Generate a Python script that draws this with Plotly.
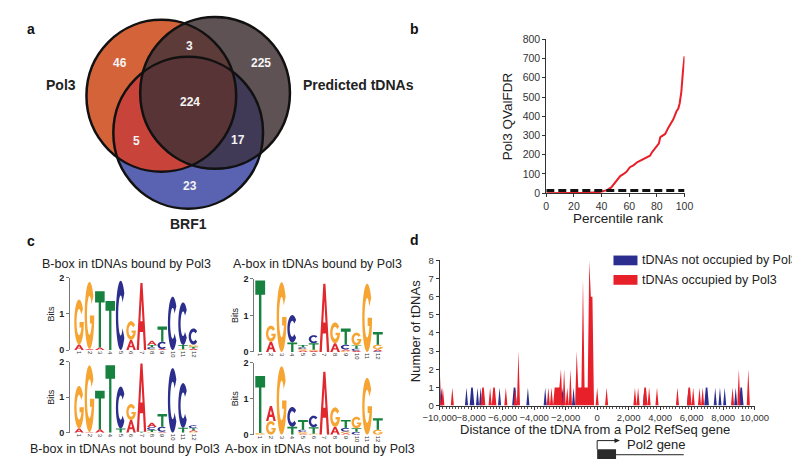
import numpy as np
import plotly.graph_objects as go

W, H = 800, 461
FONT = "Liberation Sans, Arial, Helvetica, sans-serif"
TXT = "#222222"

# ---------------- data: panel a (Venn) ----------------
venn_set_names = ["Pol3", "Predicted tDNAs", "BRF1"]
venn_region_names = ["Pol3 only", "Pol3 & Predicted", "Predicted only", "All three",
                     "Pol3 & BRF1", "Predicted & BRF1", "BRF1 only"]
venn_region_counts = [46, 3, 225, 224, 5, 17, 23]

# ---------------- data: panel b ----------------
percentile_rank = [0, 10, 20, 30, 38, 41, 44, 47, 50, 53.5, 56, 58, 60.5, 63, 66, 69, 72, 75,
                   76.7, 79, 81.4, 82.5, 84, 86, 88.4, 90, 91.9, 94.2, 95.5, 96.5, 97.7, 98.8, 100]
pol3_qval_fdr = [0, 0, 1, 2, 5, 9, 16, 30, 55, 89, 100, 111, 135, 145, 162, 172, 182, 195,
                 215, 235, 258, 292, 300, 308, 342, 360, 384, 426, 440, 468, 527, 628, 712]
qval_threshold = 14

# ---------------- data: panel c (sequence logos, bits) ----------------
logo_positions = list(range(1, 13))
bbox_bound = {
    "A": [0.15, 0.03, 0.07, 0.00, 0.00, 0.28, 1.86, 0.12, 0.03, 0.00, 0.00, 0.04],
    "C": [0.00, 0.00, 0.00, 0.00, 1.92, 0.00, 0.00, 0.06, 0.20, 1.48, 1.18, 0.45],
    "G": [1.25, 1.86, 0.00, 0.00, 0.00, 0.52, 0.00, 0.02, 0.00, 0.00, 0.02, 0.06],
    "T": [0.00, 0.00, 1.56, 1.36, 0.00, 0.00, 0.00, 0.06, 0.42, 0.00, 0.12, 0.05],
}
bbox_unbound = {
    "A": [0.12, 0.02, 0.10, 0.00, 0.00, 0.36, 1.92, 0.12, 0.03, 0.00, 0.00, 0.04],
    "C": [0.00, 0.00, 0.00, 0.00, 1.18, 0.00, 0.00, 0.08, 0.14, 1.82, 1.26, 0.08],
    "G": [1.20, 1.88, 0.00, 0.00, 0.00, 0.45, 0.00, 0.02, 0.00, 0.00, 0.00, 0.03],
    "T": [0.00, 0.00, 1.08, 1.90, 0.12, 0.00, 0.03, 0.06, 0.36, 0.00, 0.14, 0.06],
}
abox_bound = {
    "A": [0.00, 0.28, 0.00, 0.00, 0.04, 0.03, 1.87, 0.24, 0.04, 0.03, 0.00, 0.05],
    "C": [0.00, 0.00, 0.00, 0.75, 0.05, 0.22, 0.00, 0.00, 0.13, 0.06, 0.00, 0.02],
    "G": [0.00, 0.44, 1.91, 0.00, 0.04, 0.03, 0.00, 0.57, 0.03, 0.35, 1.87, 0.13],
    "T": [1.96, 0.00, 0.00, 0.26, 0.06, 0.18, 0.00, 0.00, 0.44, 0.09, 0.00, 0.35],
}
abox_unbound = {
    "A": [0.00, 0.42, 0.00, 0.00, 0.03, 0.00, 1.75, 0.22, 0.04, 0.00, 0.00, 0.00],
    "C": [0.00, 0.00, 0.00, 0.55, 0.06, 0.32, 0.00, 0.00, 0.10, 0.08, 0.00, 0.00],
    "G": [0.05, 0.38, 1.90, 0.00, 0.05, 0.03, 0.00, 0.54, 0.05, 0.32, 1.58, 0.14],
    "T": [1.58, 0.00, 0.00, 0.22, 0.27, 0.18, 0.00, 0.00, 0.22, 0.10, 0.00, 0.32],
}
logo_titles = ["B-box in tDNAs bound by Pol3", "B-box in tDNAs not bound by Pol3",
               "A-box in tDNAs bound by Pol3", "A-box in tDNAs not bound by Pol3"]

# ---------------- data: panel d ----------------
dist_bins = list(range(-10000, 10001, 100))
not_occupied_pos = [-9900, -8300, -8000, -7900, -7600, -7400, -6200, -5300, -5200, -4400,
                    -3300, -2200, -1500, 3000, 5800, 6900, 7000, 7500, 7800, 8100, 8800,
                    9100, 9200]
not_occupied_n = [1] * len(not_occupied_pos)
occupied_pos = [-10000, -9800, -9200, -7300, -7200, -6800, -6600, -6500, -5800, -5200, -5000,
                -3100, -2900, -2700, -2600, -2500, -2400, -2300, -2100, -1900, -1700, -1300,
                -1200, -1100, -1000, -900, -800, -700, -600, -500, -400, -300, 0, 600, 2400,
                2600, 3000, 3100, 3300, 3800, 5100, 5800, 5900, 6100, 6500, 6700, 8600, 9000,
                9600]
occupied_n = [2, 1, 1, 1, 1, 1, 1, 1, 1, 1, 3,
              1, 1, 1, 1, 1, 1, 2, 2, 1, 2, 3,
              1, 1, 1, 7, 1, 1, 1, 8, 6, 6, 1, 1, 1,
              1, 1, 1, 1, 1, 1, 1, 1, 1, 1, 1, 1, 2,
              2]
gene_box = [0, 1200]
gene_line_end = 5500


# ---------------- helpers ----------------
def px(x):
    return x / W


def py(y):
    return 1 - y / H


def ann(text, x, y, size, bold=False, color=TXT, xanchor="center", yanchor="middle", angle=0):
    return dict(x=px(x), y=py(y), xref="paper", yref="paper", showarrow=False,
                text=f"<b>{text}</b>" if bold else text, textangle=angle,
                xanchor=xanchor, yanchor=yanchor,
                font=dict(family=FONT, size=size, color=color))


fig = go.Figure()
shapes = []
annotations = []

# ================= panel a: Venn =================
venn_circles = [((142, 84), 78), ((198, 81), 78), ((170, 122), 78)]
venn_base_colors = ["#D5633A", "#5E5255", "#5A63B2"]
venn_pair_colors = {(0, 1): "#5D3B38", (0, 2): "#C8443B", (1, 2): "#403A57"}
venn_triple_color = "#583436"


def circ_pts(c, r, n=900):
    t = np.linspace(0, 2 * np.pi, n, endpoint=False)
    return np.c_[c[0] + r * np.cos(t), c[1] + r * np.sin(t)]


def inter_poly(idx):
    pts = []
    for i in idx:
        p = circ_pts(*venn_circles[i])
        m = np.ones(len(p), bool)
        for j in idx:
            if j != i:
                c, r = venn_circles[j]
                m &= (p[:, 0] - c[0]) ** 2 + (p[:, 1] - c[1]) ** 2 <= r * r
        pts.append(p[m])
    pts = np.vstack(pts)
    cen = pts.mean(0)
    ang = np.arctan2(pts[:, 1] - cen[1], pts[:, 0] - cen[0])
    pts = pts[np.argsort(ang)]
    return "M " + " L ".join(f"{px(a):.5f},{py(b):.5f}" for a, b in pts) + " Z"


for (c, r), col in zip(venn_circles, venn_base_colors):
    shapes.append(dict(type="circle", xref="paper", yref="paper",
                       x0=px(c[0] - r), x1=px(c[0] + r), y0=py(c[1] + r), y1=py(c[1] - r),
                       fillcolor=col, line=dict(width=0), layer="above"))
for pair, col in venn_pair_colors.items():
    shapes.append(dict(type="path", xref="paper", yref="paper", path=inter_poly(pair),
                       fillcolor=col, line=dict(width=0), layer="above"))
shapes.append(dict(type="path", xref="paper", yref="paper", path=inter_poly((0, 1, 2)),
                   fillcolor=venn_triple_color, line=dict(width=0), layer="above"))
for c, r in venn_circles:
    shapes.append(dict(type="circle", xref="paper", yref="paper",
                       x0=px(c[0] - r), x1=px(c[0] + r), y0=py(c[1] + r), y1=py(c[1] - r),
                       fillcolor="rgba(0,0,0,0)", line=dict(width=2.5, color="#111111"),
                       layer="above"))

venn_label_xy = [(99, 50), (171, 33), (246, 50), (172, 90), (116, 130), (222, 129), (172, 177)]
for n, (x, y) in zip(venn_region_counts, venn_label_xy):
    annotations.append(ann(str(n), x, y, 12, bold=True, color="#F4F4F4"))
annotations.append(ann(venn_set_names[0], 37, 73, 14, bold=True))
annotations.append(ann(venn_set_names[1], 288, 73, 14, bold=True, xanchor="left"))
annotations.append(ann(venn_set_names[2], 170, 216, 14, bold=True))

# panel letters
for letter, (x, y) in zip("abcd", [(6, 15), (406, 15), (6, 233), (406, 232)]):
    annotations.append(ann(letter, x, y, 14, bold=True, color="#111111"))

# ================= panel b =================
fig.add_trace(go.Scatter(x=percentile_rank, y=pol3_qval_fdr, mode="lines",
                         line=dict(color="#E8202A", width=2), xaxis="x", yaxis="y",
                         hoverinfo="skip", showlegend=False))
fig.add_trace(go.Scatter(x=[percentile_rank[0], percentile_rank[-1]],
                         y=[qval_threshold, qval_threshold], mode="lines",
                         line=dict(color="#111111", width=3, dash="8px,4px"),
                         xaxis="x", yaxis="y", hoverinfo="skip", showlegend=False))
ax_common = dict(showgrid=False, zeroline=False, showline=True, linecolor="#333333",
                 linewidth=1, ticks="outside", ticklen=3, tickcolor="#333333",
                 tickfont=dict(family=FONT, size=10.5, color="#333333"), fixedrange=True,
                 tickangle=0)
fig.update_layout(
    xaxis=dict(domain=[px(543), px(687)], range=[0, 100], tickvals=list(range(0, 101, 20)),
               anchor="y", **ax_common),
    yaxis=dict(domain=[py(184), py(26)], range=[0, 800], tickvals=list(range(0, 801, 100)),
               anchor="x", **ax_common),
)
annotations.append(ann("Percentile rank", 618, 210, 13.5))
annotations.append(ann("Pol3 QValFDR", 502, 105, 13.5, angle=-90))

# ================= panel d =================
occ_map = dict(zip(occupied_pos, occupied_n))
not_map = dict(zip(not_occupied_pos, not_occupied_n))
occ_y = [occ_map.get(b, 0) for b in dist_bins]
not_y = [not_map.get(b, 0) for b in dist_bins]
fig.add_trace(go.Scatter(x=dist_bins, y=not_y, mode="lines", fill="tozeroy",
                         line=dict(width=0, color="#2B2E8E"), fillcolor="#2B2E8E",
                         xaxis="x2", yaxis="y2", hoverinfo="skip", showlegend=False))
fig.add_trace(go.Scatter(x=dist_bins, y=occ_y, mode="lines", fill="tozeroy",
                         line=dict(width=0, color="#E8202A"), fillcolor="#E8202A",
                         xaxis="x2", yaxis="y2", hoverinfo="skip", showlegend=False))
axd = dict(ax_common)
axd["tickfont"] = dict(family=FONT, size=9.5, color="#333333")
fig.update_layout(
    xaxis2=dict(domain=[px(432), px(760)], range=[-10000, 10000],
                tickvals=list(range(-10000, 10001, 2000)), tickformat=",d", anchor="y2",
                minor=dict(dtick=200, ticks="outside", ticklen=2, tickcolor="#555555"),
                **axd),
    yaxis2=dict(domain=[py(402), py(253)], range=[0, 8], tickvals=list(range(0, 9)),
                anchor="x2", **axd),
)
annotations.append(ann("Distance of the tDNA from a Pol2 RefSeq gene", 594, 427, 13))
annotations.append(ann("Number of tDNAs", 407, 326, 13, angle=-90))
# legend
for (label, col), yy in zip([("tDNAs not occupied by Pol3", "#2B2E8E"),
                             ("tDNAs occupied by Pol3", "#E8202A")], [253, 273]):
    shapes.append(dict(type="rect", xref="paper", yref="paper", x0=px(613), x1=px(638),
                       y0=py(yy + 5), y1=py(yy - 5), fillcolor=col, line=dict(width=0)))
    annotations.append(ann(label, 641, yy, 12.5, xanchor="left"))
# gene diagram (aligned to the distance axis)
shapes.append(dict(type="rect", xref="x2", yref="paper", x0=gene_box[0], x1=gene_box[1],
                   y0=py(457), y1=py(447), fillcolor="#2A2A2A", line=dict(width=0)))
shapes.append(dict(type="line", xref="x2", yref="paper", x0=gene_box[1], x1=gene_line_end,
                   y0=py(452.5), y1=py(452.5), line=dict(color="#222222", width=1)))
shapes.append(dict(type="path", xref="x2", yref="paper",
                   path=f"M {gene_box[0]},{py(447)} L {gene_box[0]},{py(438)} L 1150,{py(438)}",
                   line=dict(color="#222222", width=1)))
shapes.append(dict(type="path", xref="x2", yref="paper",
                   path=f"M 1100,{py(435.5)} L 1450,{py(438)} L 1100,{py(440.5)} Z",
                   fillcolor="#222222", line=dict(width=0)))
annotations.append(ann("Pol2 gene", 625, 442, 13, xanchor="left"))

# ================= panel c: logos =================
LOGO_COLORS = {"A": "#E0282E", "C": "#2B2E8C", "G": "#F6A532", "T": "#17813F"}


def ell(cx, cy, rx, ry, a0, a1, n=36):
    t = np.radians(np.linspace(a0, a1, n))
    return [(cx + rx * np.cos(a), cy + ry * np.sin(a)) for a in t]


_gy = 0.38
_gx = 0.5 + 0.26 * np.sqrt(1 - ((_gy - 0.5) / 0.29) ** 2)
_ga = 360 + np.degrees(np.arcsin((_gy - 0.5) / 0.29))
GLYPHS = {
    "T": [[(0, 1), (1, 1), (1, 0.8), (0.62, 0.8), (0.62, 0), (0.38, 0), (0.38, 0.8), (0, 0.8)]],
    "A": [[(0, 0), (0.39, 1), (0.61, 1), (1, 0), (0.76, 0), (0.665, 0.27), (0.335, 0.27),
           (0.24, 0)],
          [(0.39, 0.43), (0.61, 0.43), (0.5, 0.75)]],
    "C": [ell(0.5, 0.5, 0.5, 0.5, 40, 320) + ell(0.5, 0.5, 0.26, 0.29, 320, 40)],
    "G": [ell(0.5, 0.5, 0.5, 0.5, 35, 360) + [(0.55, 0.5), (0.55, _gy), (_gx, _gy)]
          + ell(0.5, 0.5, 0.26, 0.29, _ga, 35)],
}


def glyph_path(letter, x0, w, y0, h):
    parts = []
    for poly in GLYPHS[letter]:
        parts.append("M " + " L ".join(f"{x0 + u * w:.4f},{y0 + v * h:.5f}" for u, v in poly) + " Z")
    return " ".join(parts)


logo_data = [bbox_bound, bbox_unbound, abox_bound, abox_unbound]
logo_xdom = [(47, 182), (47, 182), (239, 374), (239, 374)]
logo_ydom = [(271, 345), (357, 430), (272, 347), (358, 432)]
logo_xrange = [[0.14, 12.6], [0.14, 12.6], [0.46, 12.58], [0.46, 12.58]]
logo_title_xy = [(106, 257), (104, 447), (305, 257), (307, 447)]

for k, (data, xd, yd, xr, title, txy) in enumerate(
        zip(logo_data, logo_xdom, logo_ydom, logo_xrange, logo_titles, logo_title_xy)):
    n = k + 3
    totals = [sum(data[l][i] for l in "ACGT") for i in range(len(logo_positions))]
    fig.add_trace(go.Scatter(x=logo_positions, y=totals, mode="markers",
                             marker=dict(opacity=0), xaxis=f"x{n}", yaxis=f"y{n}",
                             hoverinfo="skip", showlegend=False))
    fig.layout[f"xaxis{n}"] = dict(
        domain=[px(xd[0]), px(xd[1])], range=xr, anchor=f"y{n}", tickvals=logo_positions,
        ticktext=[str(p) for p in logo_positions], tickangle=90, ticks="", showline=False,
        showgrid=False, zeroline=False, fixedrange=True,
        tickfont=dict(family=FONT, size=6, color="#333333"))
    fig.layout[f"yaxis{n}"] = dict(
        domain=[py(yd[1]), py(yd[0])], range=[0, 2], anchor=f"x{n}", tickvals=[0, 1, 2],
        showline=True, linecolor="#777777", ticks="outside", ticklen=3, tickcolor="#777777",
        showgrid=False, zeroline=False, fixedrange=True,
        tickfont=dict(family=FONT, size=9, color="#222222", weight="bold"),
        title=dict(text="Bits", font=dict(family=FONT, size=9, color="#222222"), standoff=3))
    for i, pos in enumerate(logo_positions):
        stack = sorted(((data[l][i], l) for l in "ACGT" if data[l][i] > 0))
        y0 = 0.0
        for h, l in stack:
            shapes.append(dict(type="path", xref=f"x{n}", yref=f"y{n}",
                               path=glyph_path(l, pos - 0.46, 0.92, y0, h),
                               fillcolor=LOGO_COLORS[l], line=dict(width=0), layer="above"))
            y0 += h
    annotations.append(ann(title, txy[0], txy[1], 12.5))

fig.update_layout(width=W, height=H, margin=dict(l=0, r=0, t=0, b=0),
                  paper_bgcolor="white", plot_bgcolor="white", showlegend=False,
                  font=dict(family=FONT, color=TXT), shapes=shapes, annotations=annotations)
fig.write_html("out.html")
